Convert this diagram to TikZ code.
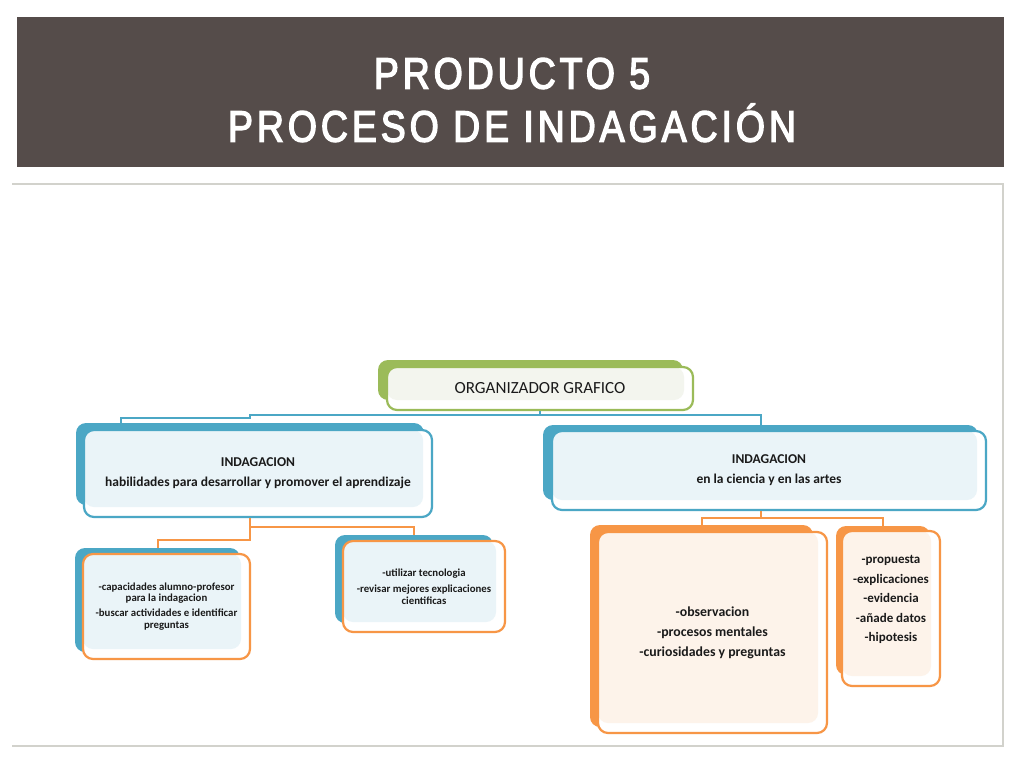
\documentclass[tikz,border=0pt]{standalone}
\usepackage{fontspec}
\setmainfont{Carlito}
\newfontfamily\titlefont[FakeStretch=0.85,LetterSpace=9,FakeBold=3]{Liberation Sans}
\definecolor{cBand}{HTML}{554C4A}
\definecolor{cBlue}{HTML}{4BA7C5}
\definecolor{cOrange}{HTML}{F79646}
\definecolor{cGreen}{HTML}{9BBB59}
\definecolor{lBlue}{HTML}{EAF4F8}
\definecolor{lOrange}{HTML}{FDF3EA}
\definecolor{lGreen}{HTML}{F3F5EE}
\definecolor{cFrame}{HTML}{D2D2CC}
\definecolor{txt}{HTML}{1A1A1A}
\begin{document}
\begin{tikzpicture}[x=1pt,y=-1pt,
  backbox/.style={fill=#1, draw=none, rounded corners=10pt, inner sep=0pt},
  frontbox/.style 2 args={draw=#1, line width=2.2pt, fill=white, rounded corners=10pt,
    inner sep=0pt, align=center, text=txt,
    path picture={\fill[#2] (path picture bounding box.north west) rectangle ([shift={(-9pt,10pt)}]path picture bounding box.south east);}},
  bconn/.style={draw=cBlue, line width=2pt},
  oconn/.style={draw=cOrange, line width=2pt},
  parenttext/.style={font=\fontsize{13.5}{20}\selectfont\bfseries},
  smalltext/.style={font=\fontsize{10.8}{11.5}\selectfont\bfseries},
  midtext/.style={font=\fontsize{13.8}{20}\selectfont\bfseries}
]
\useasboundingbox[fill=white] (0,0) rectangle (1024,768);
% title band
\node[fill=cBand, minimum width=987, minimum height=150, inner sep=0pt] (band) at (510.5,92) {};
\node[text=white, align=center, font=\titlefont\fontsize{44}{53}\selectfont] (title) at (512,100)
  {PRODUCTO 5\\PROCESO DE INDAGACIÓN};
% frame of the picture
\draw[cFrame, line width=1.5pt] (12,184) -- (1003,184) -- (1003,746) -- (12,746);

% ---------- boxes ----------
\node[backbox=cGreen, minimum width=305, minimum height=40] (Tb) at (530.5,380) {};
\node[frontbox={cGreen}{lGreen}, minimum width=306, minimum height=43,
      font=\fontsize{17}{18}\selectfont] (T) at (540,388.5) {ORGANIZADOR GRAFICO};

\node[backbox=cBlue, minimum width=348, minimum height=82] (Lb) at (250,464) {};
\node[frontbox={cBlue}{lBlue}, minimum width=348, minimum height=87, parenttext] (L) at (258,473.5)
  {INDAGACION\\habilidades para desarrollar y promover el aprendizaje};

\node[backbox=cBlue, minimum width=435, minimum height=75] (Rb) at (760.5,462.5) {};
\node[frontbox={cBlue}{lBlue}, minimum width=434, minimum height=79, parenttext] (R) at (769,470.5)
  {INDAGACION\\en la ciencia y en las artes};

\node[backbox=cBlue, minimum width=165, minimum height=104] (LC1b) at (157.5,600) {};
\node[frontbox={cOrange}{lBlue}, minimum width=167, minimum height=105, smalltext] (LC1) at (166.5,606.5)
  {-capacidades alumno-profesor\\para la indagacion\\[3.5pt]-buscar actividades e identificar\\preguntas};

\node[backbox=cBlue, minimum width=158, minimum height=88] (LC2b) at (414,579) {};
\node[frontbox={cOrange}{lBlue}, minimum width=162, minimum height=91, smalltext] (LC2) at (424,586.5)
  {-utilizar tecnologia\\[4.5pt]-revisar mejores explicaciones\\cientificas};

\node[backbox=cOrange, minimum width=223, minimum height=202] (RC1b) at (701.5,626) {};
\node[frontbox={cOrange}{lOrange}, minimum width=229, minimum height=201, midtext] (RC1) at (712.5,632.5)
  {-observacion\\-procesos mentales\\-curiosidades y preguntas};

\node[backbox=cOrange, minimum width=94, minimum height=149] (RC2b) at (883,600.5) {};
\node[frontbox={cOrange}{lOrange}, minimum width=98, minimum height=155,
      font=\fontsize{13}{19.5}\selectfont\bfseries] (RC2) at (891,608.5)
  {-propuesta\\-explicaciones\\-evidencia\\-añade datos\\-hipotesis\\\mbox{}};

% ---------- connectors ----------
\coordinate (tj) at ([yshift=-4pt]T.south);
\draw[bconn] (T.south) -- (tj) -| (Rb.north);
\draw[bconn] (tj) -- (tj -| Lb.north) -- ++(0,2.5) -- ++(-129,0) -- ([xshift=-129pt]Lb.north);

\coordinate (lj) at (Lb.center |- L.south);
\draw[oconn] (lj) -- ++(0,22) -| (LC1b.north);
\draw[oconn] (lj) ++(0,9) -| (LC2b.north);

\coordinate (rj) at (Rb.center |- R.south);
\draw[oconn] (rj) -- ++(0,7) -| (RC1b.north);
\draw[oconn] (rj) ++(0,7) -| (RC2b.north);
\end{tikzpicture}
\end{document}
